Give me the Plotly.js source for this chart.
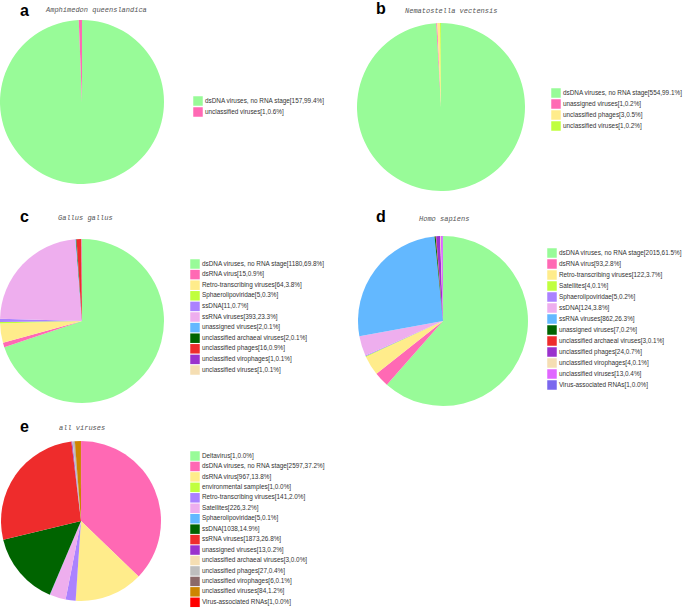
<!DOCTYPE html>
<html>
<head>
<meta charset="utf-8">
<script src="https://cdn.plot.ly/plotly-3.0.1.min.js"></script>
<style>html,body{margin:0;padding:0;background:#fff;}#chart{width:685px;height:608px;}</style>
</head>
<body>
<div id="chart"></div>
<script>
// ---- data ----
const labelsA = ["dsDNA viruses, no RNA stage", "unclassified viruses"];
const valuesA = [157, 1];
const colorsA = ["#98FB98", "#FF69B4"];

const labelsB = ["dsDNA viruses, no RNA stage", "unassigned viruses", "unclassified phages", "unclassified viruses"];
const valuesB = [554, 1, 3, 1];
const colorsB = ["#98FB98", "#FF69B4", "#FFEC8B", "#C0FF3E"];

const labelsC = ["dsDNA viruses, no RNA stage", "dsRNA virus", "Retro-transcribing viruses", "Sphaerolipoviridae", "ssDNA",
  "ssRNA viruses", "unassigned viruses", "unclassified archaeal viruses", "unclassified phages", "unclassified virophages", "unclassified viruses"];
const valuesC = [1180, 15, 64, 5, 11, 393, 2, 2, 16, 1, 1];
const colorsC = ["#98FB98", "#FF69B4", "#FFEC8B", "#C0FF3E", "#AB82FF", "#EEAEEE", "#63B8FF", "#006400", "#EE2C2C", "#9A32CD", "#F5DEB3"];

const labelsD = ["dsDNA viruses, no RNA stage", "dsRNA virus", "Retro-transcribing viruses", "Satellites", "Sphaerolipoviridae", "ssDNA",
  "ssRNA viruses", "unassigned viruses", "unclassified archaeal viruses", "unclassified phages", "unclassified virophages", "unclassified viruses", "Virus-associated RNAs"];
const valuesD = [2015, 93, 122, 4, 5, 124, 862, 7, 3, 24, 4, 13, 1];
const colorsD = ["#98FB98", "#FF69B4", "#FFEC8B", "#C0FF3E", "#AB82FF", "#EEAEEE", "#63B8FF", "#006400", "#EE2C2C", "#9A32CD", "#F5DEB3", "#E066FF", "#7A67EE"];

const labelsE = ["Deltavirus", "dsDNA viruses, no RNA stage", "dsRNA virus", "environmental samples", "Retro-transcribing viruses", "Satellites",
  "Sphaerolipoviridae", "ssDNA", "ssRNA viruses", "unassigned viruses", "unclassified archaeal viruses", "unclassified phages",
  "unclassified virophages", "unclassified viruses", "Virus-associated RNAs"];
const valuesE = [1, 2597, 967, 1, 141, 226, 5, 1038, 1873, 13, 3, 27, 6, 84, 1];
const colorsE = ["#98FB98", "#FF69B4", "#FFEC8B", "#C0FF3E", "#AB82FF", "#EEAEEE", "#63B8FF", "#006400", "#EE2C2C", "#9A32CD", "#F5DEB3", "#BEBEBE", "#8B6969", "#CD8500", "#FF0000"];

const panelLetters = ["a", "b", "c", "d", "e"];
const panelTitles = ["Amphimedon queenslandica", "Nematostella vectensis", "Gallus gallus", "Homo sapiens", "all viruses"];

// ---- layout helpers ----
const W = 685, H = 608;
const panels = [
  {labels: labelsA, values: valuesA, colors: colorsA, cx: 82, cy: 102, r: 82, lx: 193, ly: 101, sp: 11,
   letter: [24, 10], title: [43, 10]},
  {labels: labelsB, values: valuesB, colors: colorsB, cx: 441, cy: 107, r: 84, lx: 551, ly: 93, sp: 11,
   letter: [381, 9], title: [403, 11]},
  {labels: labelsC, values: valuesC, colors: colorsC, cx: 82, cy: 321, r: 82, lx: 190, ly: 264, sp: 10.6,
   letter: [24, 216], title: [56, 218]},
  {labels: labelsD, values: valuesD, colors: colorsD, cx: 443, cy: 321, r: 85, lx: 547, ly: 253, sp: 11,
   letter: [381, 216], title: [417, 219]},
  {labels: labelsE, values: valuesE, colors: colorsE, cx: 81, cy: 521, r: 80, lx: 190, ly: 456, sp: 10.45,
   letter: [24, 426], title: [57, 428]}
];

const data = [];
const layout = {
  width: W, height: H,
  margin: {l: 0, r: 0, t: 0, b: 0},
  paper_bgcolor: "#fff", plot_bgcolor: "rgba(0,0,0,0)",
  showlegend: false,
  annotations: []
};

const clamp = v => Math.max(0, Math.min(1, v));

panels.forEach((p, i) => {
  const total = p.values.reduce((s, v) => s + v, 0);
  const legendText = p.labels.map((l, k) => l + "[" + p.values[k] + "," + (p.values[k] / total * 100).toFixed(1) + "%]");
  // pie
  data.push({
    type: "pie",
    labels: p.labels,
    values: p.values,
    sort: false,
    direction: "clockwise",
    rotation: 0,
    textinfo: "none",
    hoverinfo: "label+value+percent",
    marker: {colors: p.colors, line: {width: 0}},
    domain: {
      x: [clamp((p.cx - p.r) / W), clamp((p.cx + p.r) / W)],
      y: [clamp(1 - (p.cy + p.r) / H), clamp(1 - (p.cy - p.r) / H)]
    },
    showlegend: false
  });
  // legend as scatter on its own axes
  const n = p.labels.length;
  const ax = i + 2;
  const top = p.ly - p.sp / 2, bottom = p.ly + (n - 0.5) * p.sp;
  layout["xaxis" + ax] = {
    domain: [p.lx / W, (p.lx + 10) / W], range: [-5, 5], visible: false, fixedrange: true,
    anchor: "y" + ax
  };
  layout["yaxis" + ax] = {
    domain: [clamp(1 - bottom / H), clamp(1 - top / H)], range: [n - 0.5, -0.5], visible: false, fixedrange: true,
    anchor: "x" + ax
  };
  data.push({
    type: "scatter",
    mode: "markers+text",
    xaxis: "x" + ax, yaxis: "y" + ax,
    x: p.labels.map(() => 0),
    y: p.labels.map((_, k) => k),
    text: legendText,
    textposition: "middle right",
    textfont: {family: "Liberation Sans, Arial, sans-serif", size: 6.4, color: "#333"},
    marker: {symbol: "square", size: 9.5, color: p.colors, line: {width: 0}},
    cliponaxis: false,
    hoverinfo: "text",
    showlegend: false
  });
  // letter + title
  layout.annotations.push({
    xref: "paper", yref: "paper", x: p.letter[0] / W, y: 1 - p.letter[1] / H,
    xanchor: "center", yanchor: "middle", showarrow: false,
    text: "<b>" + panelLetters[i] + "</b>",
    font: {family: "Liberation Sans, Arial, sans-serif", size: 16, color: "#000"}
  });
  layout.annotations.push({
    xref: "paper", yref: "paper", x: p.title[0] / W, y: 1 - p.title[1] / H,
    xanchor: "left", yanchor: "middle", showarrow: false,
    text: "<i>" + panelTitles[i] + "</i>",
    font: {family: "Liberation Mono, DejaVu Sans Mono, monospace", size: 7, color: "#555"}
  });
});

Plotly.newPlot("chart", data, layout, {staticPlot: true, displayModeBar: false});
</script>
</body>
</html>
